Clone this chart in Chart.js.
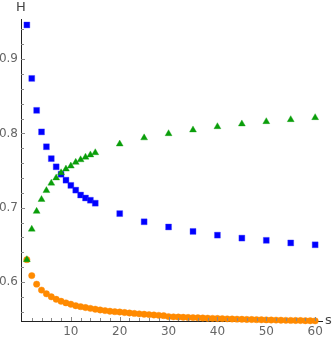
<!DOCTYPE html>
<html>
<head>
<meta charset="utf-8">
<script src="https://cdn.jsdelivr.net/npm/chart.js@4.4.0/dist/chart.umd.min.js"></script>
<style>
  html, body { margin: 0; padding: 0; background: #fff; }
  #wrap { width: 332px; height: 339px; position: relative; }
</style>
</head>
<body>
<div id="wrap"><canvas id="hChart"></canvas></div>
<script>
// s values for the sparse series (blue squares, green triangles)
var sSparse = [1, 2, 3, 4, 5, 6, 7, 8, 9, 10, 11, 12, 13, 14, 15, 20, 25, 30, 35, 40, 45, 50, 55, 60];
var blueH = [0.946, 0.874, 0.831, 0.802, 0.782, 0.766, 0.755, 0.745, 0.737, 0.730, 0.7236, 0.717, 0.713, 0.710, 0.706,
             0.692, 0.681, 0.674, 0.668, 0.663, 0.659, 0.656, 0.6525, 0.650];
var greenH = [0.630, 0.671, 0.695, 0.711, 0.723, 0.733, 0.740, 0.747, 0.752, 0.756, 0.761, 0.7645, 0.768, 0.771, 0.774,
              0.7857, 0.794, 0.7996, 0.8046, 0.809, 0.8127, 0.8158, 0.8185, 0.8212];

// s = 1..60 for the dense series (orange dots)
var sDense = [];
for (var i = 1; i <= 60; i++) sDense.push(i);
var orangeH = [0.630, 0.6085, 0.597, 0.589, 0.584, 0.580, 0.5766, 0.574, 0.5718, 0.570,
               0.568, 0.5667, 0.5655, 0.5644, 0.5633, 0.5623, 0.5614, 0.5606, 0.5600, 0.5595,
               0.5588, 0.5582, 0.5576, 0.5570, 0.5565, 0.5560, 0.5555, 0.5550, 0.5546, 0.5533,
               0.5530, 0.5527, 0.5524, 0.5522, 0.5520, 0.5517, 0.5515, 0.5512, 0.5510, 0.5508,
               0.5506, 0.5503, 0.5501, 0.5499, 0.5497, 0.5495, 0.5494, 0.5492, 0.5490, 0.5489,
               0.5487, 0.5486, 0.5485, 0.5483, 0.5482, 0.5481, 0.5480, 0.5478, 0.5477, 0.5476];

var xTickLabels = [10, 20, 30, 40, 50, 60];
var yTickLabels = [0.6, 0.7, 0.8, 0.9];

function toPoints(xs, ys) {
  return xs.map(function(x, i) { return { x: x, y: ys[i] }; });
}

// minor/major tick marks pointing into the plot, plus the axis letters
var axisDecor = {
  id: 'axisDecor',
  afterDraw: function(chart) {
    var ctx = chart.ctx;
    var xs = chart.scales.x, ys = chart.scales.y;
    var area = chart.chartArea;
    ctx.save();
    ctx.strokeStyle = '#888';
    ctx.lineWidth = 1;
    ctx.beginPath();
    for (var v = 0.56; v < 0.95; v += 0.02) {
      var py = Math.round(ys.getPixelForValue(v)) + 0.5;
      var major = Math.abs(v * 10 - Math.round(v * 10)) < 0.001;
      ctx.moveTo(area.left, py);
      ctx.lineTo(area.left + (major ? 4 : 3), py);
    }
    for (var s = 2; s <= 60; s += 2) {
      var px = Math.round(xs.getPixelForValue(s)) + 0.5;
      var majorX = s % 10 === 0;
      ctx.moveTo(px, area.bottom);
      ctx.lineTo(px, area.bottom - (majorX ? 4 : 3));
    }
    ctx.stroke();

    ctx.fillStyle = '#444';
    ctx.font = '13px "DejaVu Sans"';
    ctx.textAlign = 'center';
    ctx.textBaseline = 'middle';
    ctx.fillText('H', area.left, 8);
    ctx.textAlign = 'left';
    ctx.fillText('s', area.right + 3, area.bottom);
    ctx.restore();
  }
};

var ctx = document.getElementById('hChart').getContext('2d');
var hChart = new Chart(ctx, {
  type: 'scatter',
  data: {
    datasets: [
      {
        label: 'green',
        data: toPoints(sSparse, greenH),
        pointStyle: 'triangle',
        pointRadius: 4,
        backgroundColor: '#0a9e0a',
        borderColor: 'rgba(10,158,10,0.35)',
        pointBorderWidth: 1,
        order: 0
      },
      {
        label: 'blue',
        data: toPoints(sSparse, blueH),
        pointStyle: 'rect',
        pointRadius: 4.2,
        backgroundColor: '#0000ff',
        borderColor: 'rgba(60,60,255,0.35)',
        pointBorderWidth: 1,
        order: 1
      },
      {
        label: 'orange',
        data: toPoints(sDense, orangeH),
        pointStyle: 'circle',
        pointRadius: 3.2,
        backgroundColor: '#ff8a00',
        borderColor: 'rgba(255,138,0,0.4)',
        pointBorderWidth: 1,
        order: 2
      }
    ]
  },
  options: {
    responsive: true,
    maintainAspectRatio: false,
    animation: false,
    clip: false,
    layout: { padding: { top: 19, right: 10, left: 0, bottom: 0 } },
    plugins: { legend: { display: false }, tooltip: { enabled: false } },
    scales: {
      x: {
        type: 'linear',
        min: -0.2,
        max: 61.4,
        afterFit: function(scale) { scale.height = 18; },
        grid: { display: false, drawTicks: false, tickLength: 0 },
        border: { display: true, color: '#222', width: 1 },
        ticks: {
          stepSize: 10,
          includeBounds: false,
          autoSkip: false,
          maxRotation: 0,
          padding: 4,
          color: '#666',
          font: { family: 'DejaVu Sans', size: 12 },
          callback: function(v) { return xTickLabels.indexOf(Math.round(v)) >= 0 ? String(Math.round(v)) : ''; }
        }
      },
      y: {
        type: 'linear',
        min: 0.5474,
        max: 0.954,
        afterFit: function(scale) { scale.width = 21; },
        grid: { display: false, drawTicks: false, tickLength: 0 },
        border: { display: true, color: '#222', width: 1 },
        ticks: {
          stepSize: 0.1,
          includeBounds: false,
          autoSkip: false,
          padding: 3,
          color: '#666',
          font: { family: 'DejaVu Sans', size: 12 },
          callback: function(v) {
            var r = Math.round(v * 10) / 10;
            return yTickLabels.indexOf(r) >= 0 ? r.toFixed(1) : '';
          }
        }
      }
    }
  },
  plugins: [axisDecor]
});
</script>
</body>
</html>
